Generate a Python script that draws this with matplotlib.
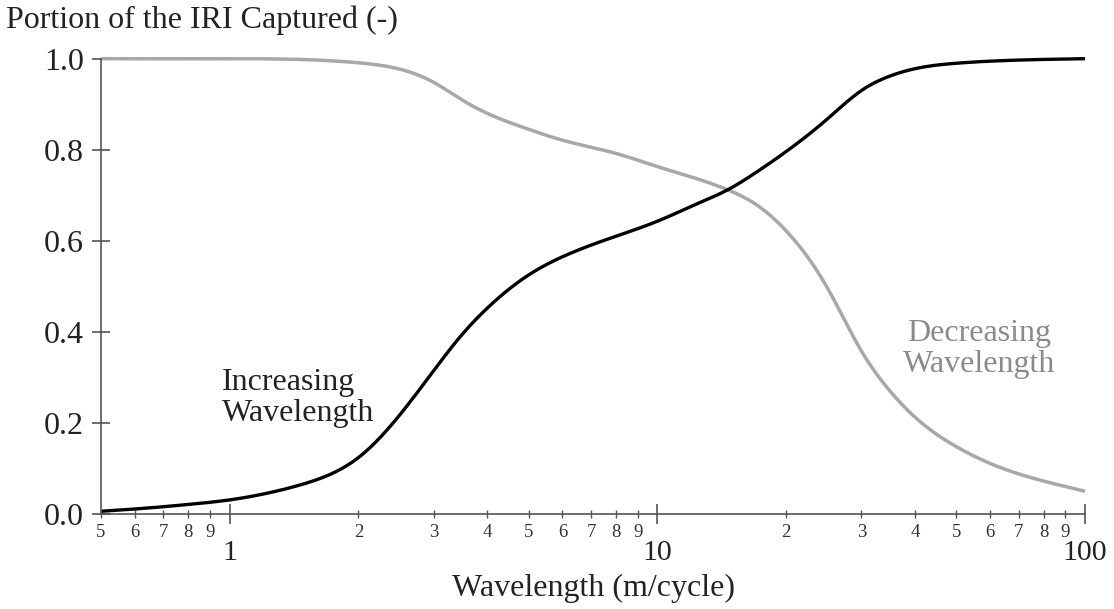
import matplotlib
matplotlib.use("Agg")
import matplotlib.pyplot as plt
import numpy as np
from matplotlib.ticker import FixedLocator, FixedFormatter

# wavelength (m/cycle) and portion of IRI captured
wl_inc = [0.5, 0.6, 0.7, 0.8, 1.0, 1.2, 1.5, 2.0, 2.5, 3.0, 3.5, 4.0, 5.0,
          6.0, 8.0, 10.0, 12.5, 14.6, 17.0, 20.0, 25.0, 30.0, 35.0, 40.0, 50.0,
          70.0, 100.0]
iri_inc = [0.006, 0.011, 0.016, 0.021, 0.031, 0.044, 0.067, 0.124, 0.218,
           0.315, 0.395, 0.452, 0.525, 0.565, 0.61, 0.643, 0.683, 0.712, 0.75,
           0.796, 0.868, 0.93, 0.962, 0.978, 0.99, 0.997, 1.0]

wl_dec = [0.5, 1.0, 1.5, 2.0, 2.5, 3.0, 3.5, 4.0, 5.0, 6.0, 8.0, 10.0, 12.5,
          14.6, 17.0, 20.0, 25.0, 30.0, 35.0, 40.0, 50.0, 60.0, 70.0, 85.0, 100.0]
iri_dec = [1.0, 1.0, 0.998, 0.991, 0.977, 0.948, 0.909, 0.88, 0.845, 0.821,
           0.792, 0.763, 0.735, 0.712, 0.68, 0.622, 0.496, 0.358, 0.27, 0.213,
           0.148, 0.111, 0.088, 0.066, 0.05]

minor_vals = [0.5, 0.6, 0.7, 0.8, 0.9, 2, 3, 4, 5, 6, 7, 8, 9,
              20, 30, 40, 50, 60, 70, 80, 90]
minor_labels = ["5", "6", "7", "8", "9", "2", "3", "4", "5", "6", "7", "8", "9",
                "2", "3", "4", "5", "6", "7", "8", "9"]
major_vals = [1, 10, 100]
major_labels = ["1", "10", "100"]
yticks = [0.0, 0.2, 0.4, 0.6, 0.8, 1.0]

plt.rcParams['font.family'] = ['Liberation Serif', 'DejaVu Serif']

W, H = 1114, 609
fig = plt.figure(figsize=(W / 100, H / 100), dpi=100)
l, r, t, b = 101, 1085, 58.7, 514
ax = fig.add_axes([l / W, 1 - b / H, (r - l) / W, (b - t) / H])


def spline(xs, ys, n=500):
    # natural cubic spline in log10(x)
    x = np.log10(xs)
    y = np.asarray(ys, float)
    k = len(x)
    h = np.diff(x)
    A = np.zeros((k, k))
    rhs = np.zeros(k)
    A[0, 0] = A[-1, -1] = 1
    for i in range(1, k - 1):
        A[i, i - 1] = h[i - 1]
        A[i, i] = 2 * (h[i - 1] + h[i])
        A[i, i + 1] = h[i]
        rhs[i] = 3 * ((y[i + 1] - y[i]) / h[i] - (y[i] - y[i - 1]) / h[i - 1])
    c = np.linalg.solve(A, rhs)
    bb = (y[1:] - y[:-1]) / h - h * (2 * c[:-1] + c[1:]) / 3
    d = (c[1:] - c[:-1]) / (3 * h)
    gx = np.linspace(x[0], x[-1], n)
    idx = np.clip(np.searchsorted(x, gx) - 1, 0, k - 2)
    dx = gx - x[idx]
    gy = y[idx] + bb[idx] * dx + c[idx] * dx**2 + d[idx] * dx**3
    return 10**gx, np.clip(gy, 0, 1)


xd, yd = spline(wl_dec, iri_dec)
ax.plot(xd, yd, color='#a8a8a8', lw=2.5, solid_capstyle='butt', clip_on=False)
xi, yi = spline(wl_inc, iri_inc)
ax.plot(xi, yi, color='black', lw=2.4, solid_capstyle='butt', clip_on=False)

ax.set_xscale('log')
ax.set_xlim(0.5, 100)
ax.set_ylim(0, 1)

for s in ['top', 'right']:
    ax.spines[s].set_visible(False)
for s in ['left', 'bottom']:
    ax.spines[s].set_color('#555555')
    ax.spines[s].set_linewidth(1.2)

ax.xaxis.set_major_locator(FixedLocator(major_vals))
ax.xaxis.set_major_formatter(FixedFormatter(major_labels))
ax.xaxis.set_minor_locator(FixedLocator(minor_vals))
ax.xaxis.set_minor_formatter(FixedFormatter(minor_labels))
ax.tick_params(axis='x', which='major', direction='inout', length=14,
               width=1.2, color='#555555', labelsize=21.5, pad=12)
ax.tick_params(axis='x', which='minor', direction='inout', length=6,
               width=1.0, color='#555555', labelsize=13.5, pad=4.5)

ax.set_yticks(yticks)
ax.set_yticklabels([f"{v:.1f}" for v in yticks])
ax.tick_params(axis='y', direction='inout', length=13, width=1.2,
               color='#555555', labelsize=23, pad=6)

for lab in ax.get_xticklabels() + ax.get_yticklabels():
    lab.set_color('#222222')
for lab in ax.get_xticklabels(minor=True):
    lab.set_color('#333333')

ax.set_xlabel("Wavelength (m/cycle)", fontsize=23, color='#222222', va='center')
ax.xaxis.set_label_coords(0.5, (b - 588) / (b - t))
fig.text(6 / W, 1 - 20 / H, "Portion of the IRI Captured (-)", fontsize=23,
         color='#222222', ha='left', va='center')

ax.text(0.96, 0.255, "Increasing\nWavelength", fontsize=23, color='#222222',
        ha='left', va='center', linespacing=1.1)
ax.text(56.6, 0.363, "Decreasing\nWavelength", fontsize=23, color='#8a8a8a',
        ha='center', va='center', linespacing=1.1)

fig.savefig("out.png", dpi=100)
